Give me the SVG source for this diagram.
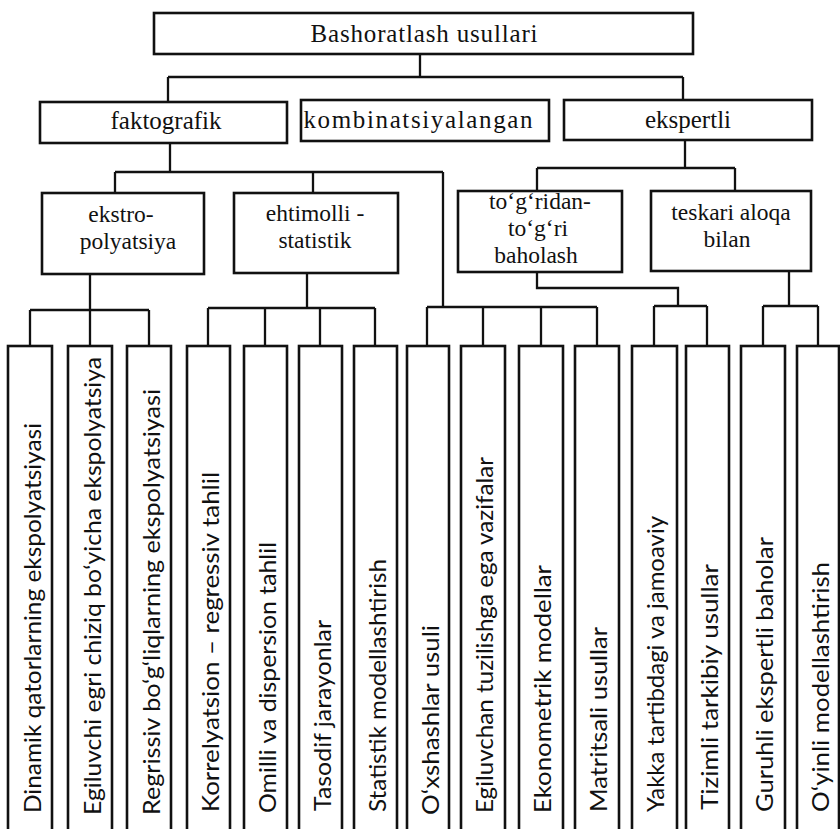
<svg xmlns="http://www.w3.org/2000/svg" width="840" height="829" viewBox="0 0 840 829">
<style>
.box{fill:#fff;stroke:#111;stroke-width:2.6}
.ln{fill:none;stroke:#111;stroke-width:2.3}
.h{font-family:"Liberation Serif","Times New Roman",serif;font-size:25px;fill:#111;text-anchor:middle}
.m{font-size:23.5px}
.v{font-family:Lato,"Liberation Sans",sans-serif;font-size:24px;fill:#111}
</style>
<rect width="840" height="829" fill="#fff"/>
<g id="connectors">
<path class="ln" d="M420,54V77M168,77H683M168,77V102M683,77V100"/>
<path class="ln" d="M170,143V172M115,172H443M115,172V193M313,172V193M443,172V307"/>
<path class="ln" d="M685,140V168M537,168H735M537,168V191M735,168V191"/>
<path class="ln" d="M90,274V310M30,310H149M30,310V346M90,310V346M149,310V346"/>
<path class="ln" d="M307,273V308M208,308H375M208,308V346M265,308V346M320,308V346M375,308V346"/>
<path class="ln" d="M427,307H597M427,307V346M483,307V346M541,307V346M597,307V346"/>
<path class="ln" d="M537,272V288H678V306M654,306H707M654,306V346M707,306V346"/>
<path class="ln" d="M789,271V306M763,306H818M763,306V346M818,306V346"/>
</g>
<g id="n-root"><rect class="box" x="154" y="13" width="539" height="41"/><text class="h" x="424" y="42" textLength="227">Bashoratlash usullari</text></g>
<g id="n-fakt"><rect class="box" x="40" y="102" width="247" height="41"/><text class="h" x="166" y="129">faktografik</text></g>
<g id="n-komb"><rect class="box" x="301" y="100" width="248" height="41"/><text class="h" x="418" y="128" textLength="229">kombinatsiyalangan</text></g>
<g id="n-eksp"><rect class="box" x="564" y="100" width="248" height="40"/><text class="h" x="688" y="128">ekspertli</text></g>
<g id="n-ekstro"><rect class="box" x="42" y="193" width="162" height="81"/><text class="h m" x="121" y="222">ekstro-</text><text class="h m" x="128" y="249">polyatsiya</text></g>
<g id="n-ehtim"><rect class="box" x="234" y="193" width="164" height="80"/><text class="h m" x="315" y="221">ehtimolli -</text><text class="h m" x="315" y="248">statistik</text></g>
<g id="n-togri"><rect class="box" x="458" y="191" width="164" height="81"/><text class="h m" x="540" y="209">to‘g‘ridan-</text><text class="h m" x="538" y="236">to‘g‘ri</text><text class="h m" x="536" y="263">baholash</text></g>
<g id="n-teskari"><rect class="box" x="651" y="191" width="160" height="80"/><text class="h m" x="731" y="220">teskari aloqa</text><text class="h m" x="727" y="247">bilan</text></g>
<g id="n-l1"><rect class="box" x="8" y="346" width="44" height="490"/><text class="v" transform="translate(41,813) rotate(-90)" textLength="390" lengthAdjust="spacingAndGlyphs">Dinamik qatorlarning ekspolyatsiyasi</text></g>
<g id="n-l2"><rect class="box" x="68" y="346" width="44" height="490"/><text class="v" transform="translate(101,815) rotate(-90)" textLength="458" lengthAdjust="spacingAndGlyphs">Egiluvchi egri chiziq bo‘yicha ekspolyatsiya</text></g>
<g id="n-l3"><rect class="box" x="127" y="346" width="44" height="490"/><text class="v" transform="translate(160,815) rotate(-90)" textLength="426" lengthAdjust="spacingAndGlyphs">Regrissiv  bo‘g‘liqlarning  ekspolyatsiyasi</text></g>
<g id="n-l4"><rect class="box" x="187" y="346" width="43" height="490"/><text class="v" transform="translate(219,812) rotate(-90)" textLength="340" lengthAdjust="spacingAndGlyphs">Korrelyatsion  –  regressiv tahlil</text></g>
<g id="n-l5"><rect class="box" x="244" y="346" width="43" height="490"/><text class="v" transform="translate(276,813) rotate(-90)" textLength="271" lengthAdjust="spacingAndGlyphs">Omilli va dispersion tahlil</text></g>
<g id="n-l6"><rect class="box" x="299" y="346" width="43" height="490"/><text class="v" transform="translate(331,811) rotate(-90)" textLength="191" lengthAdjust="spacingAndGlyphs">Tasodif jarayonlar</text></g>
<g id="n-l7"><rect class="box" x="354" y="346" width="43" height="490"/><text class="v" transform="translate(386,812) rotate(-90)" textLength="253" lengthAdjust="spacingAndGlyphs">Statistik modellashtirish</text></g>
<g id="n-l8"><rect class="box" x="407" y="346" width="42" height="490"/><text class="v" transform="translate(439,815) rotate(-90)" textLength="190" lengthAdjust="spacingAndGlyphs">O‘xshashlar  usuli</text></g>
<g id="n-l9"><rect class="box" x="461" y="346" width="44" height="490"/><text class="v" transform="translate(493,813) rotate(-90)" textLength="356" lengthAdjust="spacingAndGlyphs">Egiluvchan tuzilishga ega vazifalar</text></g>
<g id="n-l10"><rect class="box" x="519" y="346" width="44" height="490"/><text class="v" transform="translate(551,813) rotate(-90)" textLength="248" lengthAdjust="spacingAndGlyphs">Ekonometrik modellar</text></g>
<g id="n-l11"><rect class="box" x="575" y="346" width="44" height="490"/><text class="v" transform="translate(607,812) rotate(-90)" textLength="185" lengthAdjust="spacingAndGlyphs">Matritsali usullar</text></g>
<g id="n-l12"><rect class="box" x="632" y="346" width="45" height="490"/><text class="v" transform="translate(664,812) rotate(-90)" textLength="296" lengthAdjust="spacingAndGlyphs">Yakka tartibdagi va jamoaviy</text></g>
<g id="n-l13"><rect class="box" x="686" y="346" width="43" height="490"/><text class="v" transform="translate(718,810) rotate(-90)" textLength="246" lengthAdjust="spacingAndGlyphs">Tizimli tarkibiy usullar</text></g>
<g id="n-l14"><rect class="box" x="741" y="346" width="44" height="490"/><text class="v" transform="translate(773,812) rotate(-90)" textLength="275" lengthAdjust="spacingAndGlyphs">Guruhli ekspertli  baholar</text></g>
<g id="n-l15"><rect class="box" x="797" y="346" width="42" height="490"/><text class="v" transform="translate(829,812) rotate(-90)" textLength="250" lengthAdjust="spacingAndGlyphs">O‘yinli  modellashtirish</text></g>
</svg>
